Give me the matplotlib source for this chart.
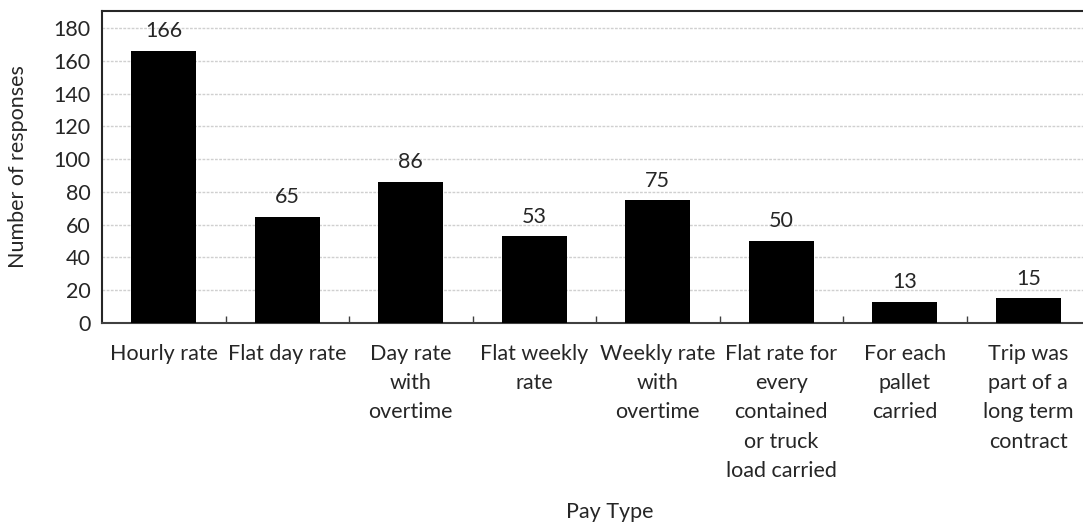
import matplotlib
matplotlib.use("Agg")
import matplotlib.pyplot as plt
import numpy as np

categories = ["Hourly rate", "Flat day rate", "Day rate\nwith\novertime", "Flat weekly\nrate",
              "Weekly rate\nwith\novertime", "Flat rate for\nevery\ncontained\nor truck\nload carried",
              "For each\npallet\ncarried", "Trip was\npart of a\nlong term\ncontract"]
values = [166, 65, 86, 53, 75, 50, 13, 15]
yticks = [0, 20, 40, 60, 80, 100, 120, 140, 160, 180]

plt.rcParams['font.family'] = ['Lato', 'DejaVu Sans']
fig = plt.figure(figsize=(10.83, 5.25), dpi=100)
W, H = 1083, 525
left, right, top, bottom = 102, 1090, 11, 323
ax = fig.add_axes([left / W, 1 - bottom / H, (right - left) / W, (bottom - top) / H])

FS = 15.5
x = np.arange(len(categories))
ax.bar(x, values, width=0.53, color='black', zorder=3)
for xi, v in zip(x, values):
    ax.text(xi, v + 12, str(v), ha='center', va='center', fontsize=FS, color='#262626')

ax.set_xlim(-0.5, len(categories) - 0.5)
ax.set_ylim(0, 190.5)
ax.set_yticks(yticks)
ax.tick_params(axis='y', length=0, labelsize=FS, labelcolor='#262626', pad=8)
ax.yaxis.grid(True, color='#d0d0d0', linewidth=1, linestyle=(0, (2, 1)), zorder=0)
ax.set_xticks(x)
ax.set_xticklabels(categories, fontsize=FS, color='#262626', linespacing=1.58, va='top')
ax.tick_params(axis='x', length=0, pad=15)
ax.set_xticks(np.arange(0.5, len(categories) - 1, 1), minor=True)
ax.tick_params(axis='x', which='minor', direction='in', length=5, color='#404040', width=1)

ax.spines['right'].set_visible(False)
ax.spines['top'].set_color('#262626')
ax.spines['top'].set_linewidth(1.5)
ax.spines['left'].set_color('#262626')
ax.spines['left'].set_linewidth(1.5)
ax.spines['bottom'].set_color('#404040')
ax.spines['bottom'].set_linewidth(1.5)

ax.set_ylabel("Number of responses", fontsize=FS, color='#262626')
ax.yaxis.set_label_coords(-(left - 28) / (right - left), 0.5)
fig.text(610 / W, 1 - 512 / H, "Pay Type", ha='center', va='center', fontsize=FS, color='#262626')

fig.savefig("out.png", dpi=100)
